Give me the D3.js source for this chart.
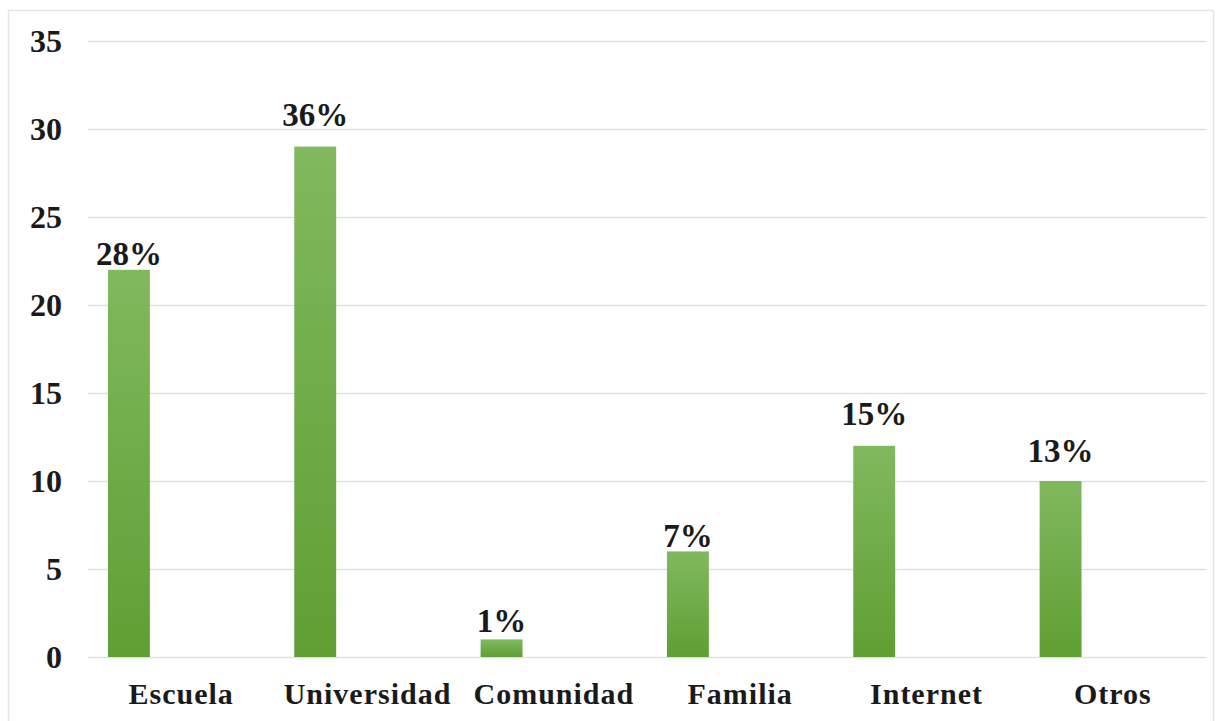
<!DOCTYPE html>
<html><head><meta charset="utf-8">
<script src="https://cdn.jsdelivr.net/npm/d3@7"></script>
<style>body{margin:0;background:#fff}svg{display:block}</style>
</head><body>
<svg id="chart" width="1222" height="721"></svg>
<script>
const categories = ["Escuela","Universidad","Comunidad","Familia","Internet","Otros"];
const counts = [22, 29, 1, 6, 12, 10];
const percentLabels = ["28%","36%","1%","7%","15%","13%"];
const yTicks = [0,5,10,15,20,25,30,35];

// layout: extra vertical lift of each value label (manual placement in original)
const labelLift = [5, 21, 7, 4, 21, 19];

const svg = d3.select("#chart");
const m = {left: 88, right: 1206, top: 41, bottom: 657};

svg.append("rect").attr("x",8.5).attr("y",10.5).attr("width",1205).attr("height",720)
  .attr("fill","#fff").attr("stroke","#e3e5e8").attr("stroke-width",1.5);

const x = d3.scaleBand().domain(categories).range([m.left, m.right]).padding(0);
const y = d3.scaleLinear().domain([0,35]).range([m.bottom, m.top]);

const defs = svg.append("defs");
const g = defs.append("linearGradient").attr("id","barGrad").attr("x1",0).attr("y1",0).attr("x2",0).attr("y2",1);
g.append("stop").attr("offset","0%").attr("stop-color","#80b95e");
g.append("stop").attr("offset","100%").attr("stop-color","#5f9f33");

const serif = "'Liberation Serif', 'Times New Roman', serif";

// grid
const yAxis = d3.axisLeft(y).tickValues(yTicks).tickSize(-(m.right-m.left)).tickFormat(d3.format("d")).tickPadding(26);
const ga = svg.append("g").attr("transform",`translate(${m.left},0)`).call(yAxis);
ga.select(".domain").remove();
ga.selectAll(".tick line").attr("stroke","#dfe1e4").attr("stroke-width",1.5);
ga.selectAll(".tick text").attr("font-family",serif)
  .attr("font-weight","bold").attr("font-size",32).attr("fill","#1a1a1a").attr("dy","0.34em");

const bw = x.bandwidth();
const barOff = bw*0.107, barW = bw*0.225;

svg.append("g").selectAll("rect").data(categories).join("rect")
  .attr("x", d => x(d)+barOff)
  .attr("y", (d,i) => y(counts[i]))
  .attr("width", barW)
  .attr("height", (d,i) => y(0)-y(counts[i]))
  .attr("fill","url(#barGrad)");

svg.append("g").selectAll("text").data(categories).join("text")
  .attr("x", d => x(d)+barOff+barW/2)
  .attr("y", (d,i) => y(counts[i]) - labelLift[i])
  .attr("text-anchor","middle")
  .attr("font-family",serif)
  .attr("font-weight","bold").attr("font-size",33).attr("fill","#1a1a1a")
  .text((d,i) => percentLabels[i]);

const xAxis = d3.axisBottom(x).tickSize(0).tickPadding(0);
const gx = svg.append("g").attr("transform",`translate(0,${m.bottom})`).call(xAxis);
gx.select(".domain").remove();
gx.selectAll(".tick text").attr("font-family",serif)
  .attr("font-weight","bold").attr("font-size",30).attr("fill","#1a1a1a")
  .attr("letter-spacing","1px").attr("dy",0).attr("y",47);
</script>
</body></html>
